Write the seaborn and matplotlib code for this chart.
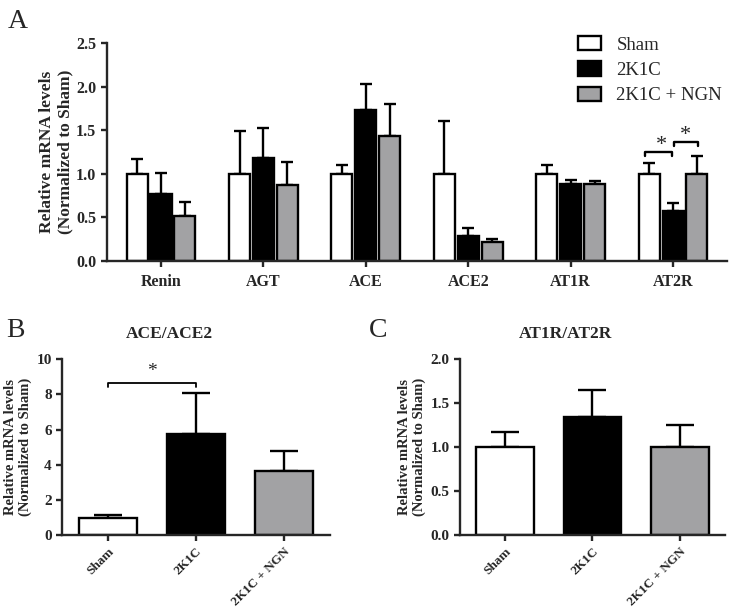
import numpy as np
import pandas as pd
import matplotlib
matplotlib.use("Agg")
import matplotlib.pyplot as plt
import seaborn as sns
from matplotlib.patches import Patch

# ---- data ----
genes = ["Renin", "AGT", "ACE", "ACE2", "AT1R", "AT2R"]
groups = ["Sham", "2K1C", "2K1C + NGN"]
sham_mean = [1.0, 1.0, 1.0, 1.0, 1.0, 1.0]
sham_err = [0.17, 0.49, 0.10, 0.60, 0.10, 0.12]
k1c_mean = [0.77, 1.18, 1.73, 0.29, 0.88, 0.57]
k1c_err = [0.24, 0.35, 0.30, 0.09, 0.05, 0.10]
ngn_mean = [0.52, 0.87, 1.43, 0.22, 0.88, 1.00]
ngn_err = [0.16, 0.26, 0.37, 0.03, 0.04, 0.20]

ace_ratio_mean = [1.0, 5.75, 3.65]
ace_ratio_err = [0.15, 2.35, 1.15]
at_ratio_mean = [1.0, 1.34, 1.0]
at_ratio_err = [0.17, 0.31, 0.25]

colors = ["#FFFFFF", "#000000", "#A2A2A4"]

sns.set_theme(style="ticks")
plt.rcParams["font.family"] = ["Liberation Serif", "DejaVu Serif"]
plt.rcParams["font.weight"] = "bold"
plt.rcParams["axes.linewidth"] = 1.7

fig = plt.figure(figsize=(7.31, 6.13), dpi=100)
axA = fig.add_axes([0.146, 0.574, 0.849, 0.356])
axB = fig.add_axes([0.085, 0.127, 0.366, 0.287])
axC = fig.add_axes([0.629, 0.127, 0.363, 0.287])

# ---- panel A ----
dfA = pd.DataFrame({
    "gene": genes * 3,
    "group": [g for g in groups for _ in genes],
    "val": sham_mean + k1c_mean + ngn_mean,
    "err": sham_err + k1c_err + ngn_err,
})
sns.barplot(data=dfA, x="gene", y="val", hue="group", order=genes,
            hue_order=groups, palette=colors, edgecolor="black",
            linewidth=1.7, errorbar=None, width=0.70, gap=0.12, ax=axA,
            legend=False)
errs = [sham_err, k1c_err, ngn_err]
for cont, e in zip(axA.containers, errs):
    xs = [p.get_x() + p.get_width() / 2 for p in cont.patches]
    hs = [p.get_height() for p in cont.patches]
    axA.errorbar(xs, hs, yerr=[np.zeros(len(e)), e], fmt="none",
                 ecolor="black", elinewidth=1.7, capsize=4.5, capthick=1.7,
                 zorder=0)
axA.set_ylim(0, 2.5)
axA.set_xlim(-0.53, 5.53)
axA.set_yticks([0, 0.5, 1.0, 1.5, 2.0, 2.5])
axA.set_yticklabels(["0.0", "0.5", "1.0", "1.5", "2.0", "2.5"])
axA.set_xlabel("")
axA.set_ylabel("Relative mRNA levels\n(Normalized to Sham)", fontsize=12.5,
               fontweight="bold", labelpad=2)
axA.tick_params(axis="both", labelsize=11.5, width=1.7, length=4, direction="out")
axA.tick_params(axis="x", pad=5)
sns.despine(ax=axA)

# significance brackets in A (AT2R)
c0 = [p.get_x() + p.get_width() / 2 for p in axA.containers[0].patches][5]
c1 = [p.get_x() + p.get_width() / 2 for p in axA.containers[1].patches][5]
c2 = [p.get_x() + p.get_width() / 2 for p in axA.containers[2].patches][5]
axA.plot([c0 - 0.04, c0 - 0.04, c1 - 0.01, c1 - 0.01], [1.20, 1.245, 1.245, 1.20],
         color="black", lw=1.7)
axA.text((c0 + c1) / 2, 1.33, "*", ha="center", va="center", fontsize=16,
         fontweight="normal")
axA.plot([c1 + 0.01, c1 + 0.01, c2 + 0.01, c2 + 0.01], [1.315, 1.36, 1.36, 1.315],
         color="black", lw=1.7)
axA.text((c1 + c2) / 2, 1.44, "*", ha="center", va="center", fontsize=16,
         fontweight="normal")

handles = [Patch(facecolor=c, edgecolor="black", linewidth=1.7) for c in colors]
leg = axA.legend(handles, groups, loc="upper left",
                 bbox_to_anchor=(578 / 731, 1 - 36 / 613),
                 bbox_transform=fig.transFigure, borderaxespad=0, borderpad=0,
                 frameon=False,
                 prop={"family": "Liberation Serif", "weight": "normal", "size": 13.5},
                 handlelength=1.2, handleheight=0.78, labelspacing=0.42,
                 handletextpad=0.85)

fig.text(0.010, 0.955, "A", fontsize=20, fontweight="normal")


# ---- panels B, C ----
def small_panel(ax, means, errs_, ylim, yticks, yticklabels, title):
    df = pd.DataFrame({"group": groups, "val": means})
    sns.barplot(data=df, x="group", y="val", hue="group", order=groups,
                hue_order=groups, palette=colors, edgecolor="black",
                linewidth=1.7, errorbar=None, width=0.66, ax=ax, legend=False,
                dodge=False)
    xs, hs = [], []
    for cont in ax.containers:
        for p in cont.patches:
            if p.get_height() > 0:
                xs.append(p.get_x() + p.get_width() / 2)
                hs.append(p.get_height())
    order = np.argsort(xs)
    xs = np.array(xs)[order]
    hs = np.array(hs)[order]
    ax.errorbar(xs, hs, yerr=[np.zeros(3), errs_], fmt="none", ecolor="black",
                elinewidth=1.7, capsize=10, capthick=1.7, zorder=0)
    ax.set_ylim(*ylim)
    ax.set_xlim(-0.52, 2.52)
    ax.set_yticks(yticks)
    ax.set_yticklabels(yticklabels)
    ax.set_xlabel("")
    ax.set_ylabel("Relative mRNA levels\n(Normalized to Sham)", fontsize=10.5,
                  fontweight="bold", labelpad=3)
    ax.tick_params(axis="both", labelsize=11, width=1.7, length=4)
    ax.tick_params(axis="x", labelsize=9.5)
    for lbl in ax.get_xticklabels():
        lbl.set_rotation(45)
        lbl.set_ha("right")
        lbl.set_rotation_mode("anchor")
    ax.set_title(title, fontsize=12.5, fontweight="bold", pad=15, x=0.40)
    sns.despine(ax=ax)
    return xs


xsB = small_panel(axB, ace_ratio_mean, ace_ratio_err, (0, 10), [0, 2, 4, 6, 8, 10],
                  ["0", "2", "4", "6", "8", "10"], "ACE/ACE2")
axB.plot([xsB[0], xsB[0], xsB[1], xsB[1]], [8.4, 8.65, 8.65, 8.4], color="black", lw=1.3)
axB.text((xsB[0] + xsB[1]) / 2, 9.3, "*", ha="center", va="center", fontsize=14,
         fontweight="normal")

small_panel(axC, at_ratio_mean, at_ratio_err, (0, 2.0), [0, 0.5, 1.0, 1.5, 2.0],
            ["0.0", "0.5", "1.0", "1.5", "2.0"], "AT1R/AT2R")

fig.text(0.008, 0.45, "B", fontsize=20, fontweight="normal")
fig.text(0.505, 0.45, "C", fontsize=20, fontweight="normal")

fig.savefig("out.png", dpi=100)
